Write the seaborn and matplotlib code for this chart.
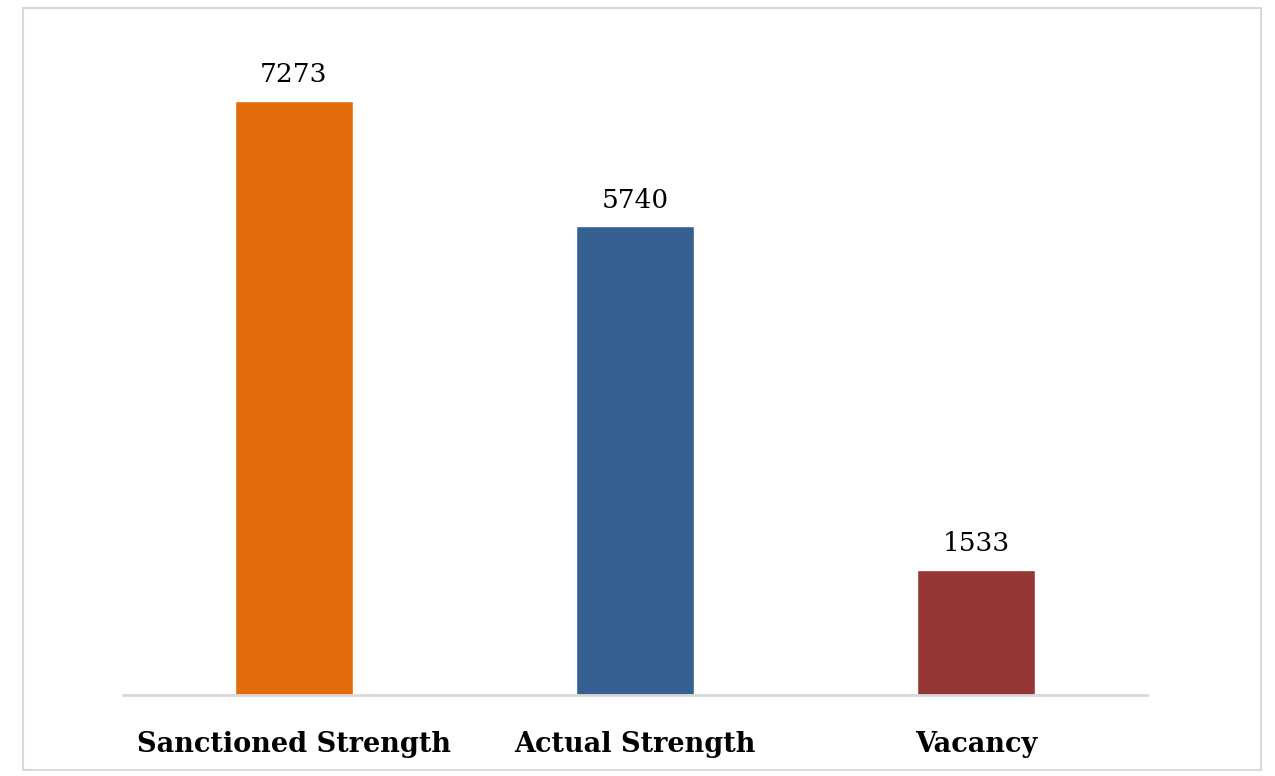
import pandas as pd
import seaborn as sns
import matplotlib.pyplot as plt
from matplotlib.patches import Rectangle

categories = ['Sanctioned Strength', 'Actual Strength', 'Vacancy']
counts = [7273, 5740, 1533]
colors = ['#E36C0A', '#366092', '#953735']

df = pd.DataFrame({'Category': categories, 'Count': counts})

sns.set_theme(style='white')
plt.rcParams['font.family'] = ['DejaVu Serif']

fig = plt.figure(figsize=(12.75, 7.76), dpi=100)
ax = fig.add_axes([0.0965, 0.1044, 0.8031, 0.8415])

sns.barplot(data=df, x='Category', y='Count', hue='Category', palette=colors,
            width=0.345, legend=False, ax=ax, saturation=1)

ax.set_ylim(0, 8000)
for i, v in enumerate(counts):
    ax.annotate(str(v), (i, v), xytext=(0, 10), textcoords='offset points',
                ha='center', va='bottom', fontsize=19, color='black')

for s in ['top', 'right', 'left']:
    ax.spines[s].set_visible(False)
ax.spines['bottom'].set_color('#d9d9d9')
ax.spines['bottom'].set_linewidth(2)
ax.set_yticks([])
ax.set_xlabel('')
ax.set_ylabel('')
ax.tick_params(axis='x', length=0, pad=26, colors='black')
for lbl in ax.get_xticklabels():
    lbl.set_fontsize(19.5)
    lbl.set_fontweight('bold')
    lbl.set_color('black')

fig.patches.append(Rectangle((23 / 1275, 1 - 770 / 776), (1261 - 23) / 1275, (770 - 8) / 776,
                             transform=fig.transFigure, fill=False,
                             edgecolor='#d9d9d9', linewidth=1.5))

fig.savefig('out.png', dpi=100)
